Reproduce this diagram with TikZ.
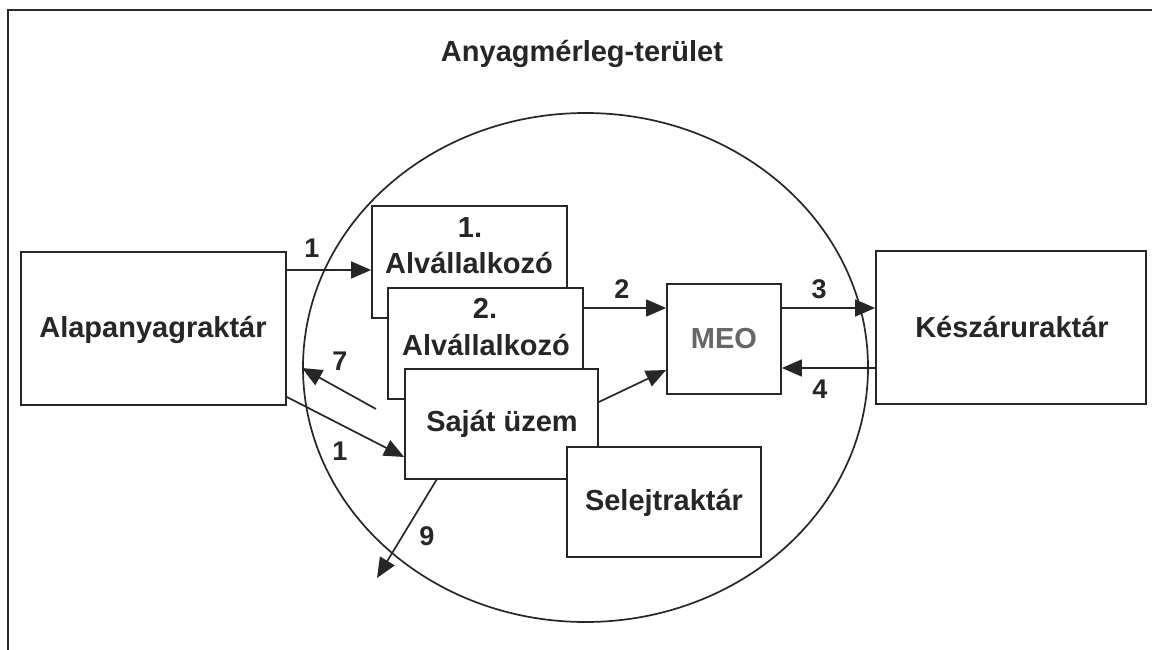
\documentclass[tikz,border=0pt]{standalone}
\usepackage{fontspec}
\setmainfont{Liberation Sans}
\usetikzlibrary{shapes.geometric,arrows.meta}
\definecolor{ink}{HTML}{262626}
\definecolor{meogray}{HTML}{666666}
\tikzset{
  boxnode/.style={draw=ink, line width=1.8pt, fill=white, inner sep=0pt},
  lbl/.style={anchor=base, inner sep=0pt, text=ink, font=\bfseries\fontsize{29}{34}\selectfont},
  num/.style={anchor=base, inner sep=0pt, text=ink, font=\bfseries\fontsize{27}{32}\selectfont},
  flow/.style={draw=ink, line width=1.7pt, -{Triangle[length=20pt,width=17pt]}},
}
\begin{document}
\begin{tikzpicture}[x=1pt,y=-1pt]
\useasboundingbox (0,0) rectangle (1152,650);
% open frame: top and left edges
\draw[ink, line width=2.2pt] (1152,10) -- (8,10) -- (8,650);
\node[lbl] (title) at (582,62) {Anyagmérleg-terület};

% balance area
\node[draw=ink, line width=1.7pt, ellipse, minimum width=565pt, minimum height=509pt, inner sep=0pt] (area) at (585.5,367.5) {};

% stores outside the area
\node[boxnode, minimum width=265pt, minimum height=153pt] (alap) at (153.5,328.5) {};
\node[lbl] (alapt) at (153,337) {Alapanyagraktár};
\node[boxnode, minimum width=270pt, minimum height=153pt] (kesz) at (1011,327.5) {};
\node[lbl] (keszt) at (1012,337) {Készáruraktár};

% units inside the area, stacked
\node[boxnode, minimum width=195pt, minimum height=112pt] (b1) at (469.5,262) {};
\node[lbl] (b1n) at (470,237) {1.};
\node[lbl] (b1t) at (469,273) {Alvállalkozó};
\node[boxnode, minimum width=195pt, minimum height=111pt] (b2) at (485.5,343.5) {};
\node[lbl] (b2n) at (485,318) {2.};
\node[lbl] (b2t) at (486,355) {Alvállalkozó};
\node[boxnode, minimum width=193pt, minimum height=110pt] (b3) at (501.5,424) {};
\node[lbl] (b3t) at (502,431) {Saját üzem};
\node[boxnode, minimum width=194pt, minimum height=110pt] (selejt) at (664,502) {};
\node[lbl] (selejtt) at (664,510) {Selejtraktár};
\node[boxnode, minimum width=114pt, minimum height=110pt] (meo) at (724,339) {};
\node[lbl, text=meogray] (meot) at (724,348) {MEO};

% free ends
\coordinate (r7s) at (376,409);
\coordinate (r7e) at (302,368);
\coordinate (s9s) at (437,479);
\coordinate (s9e) at (377,578);

% flows
\draw[flow] (alap.east |- 0,270) -- (b1.west |- 0,270);
\draw[flow] (b2.east |- 0,308) -- (meo.west |- 0,308);
\draw[flow] (meo.east |- 0,308) -- (kesz.west |- 0,308);
\draw[flow] (kesz.west |- 0,368) -- (meo.east |- 0,368);
\draw[flow] (b3.east |- 0,402) -- (meo.west |- 0,370);
\draw[flow] (r7s) -- (r7e);
\draw[flow] (alap.east |- 0,397) -- (b3.west |- 0,457);
\draw[flow] (s9s) -- (s9e);

% flow numbers
\node[num] (n1a) at (312,257) {1};
\node[num] (n2) at (622,298) {2};
\node[num] (n3) at (819,298) {3};
\node[num] (n4) at (820,398) {4};
\node[num] (n7) at (340,370) {7};
\node[num] (n1b) at (340,460) {1};
\node[num] (n9) at (427,545) {9};
\end{tikzpicture}
\end{document}
